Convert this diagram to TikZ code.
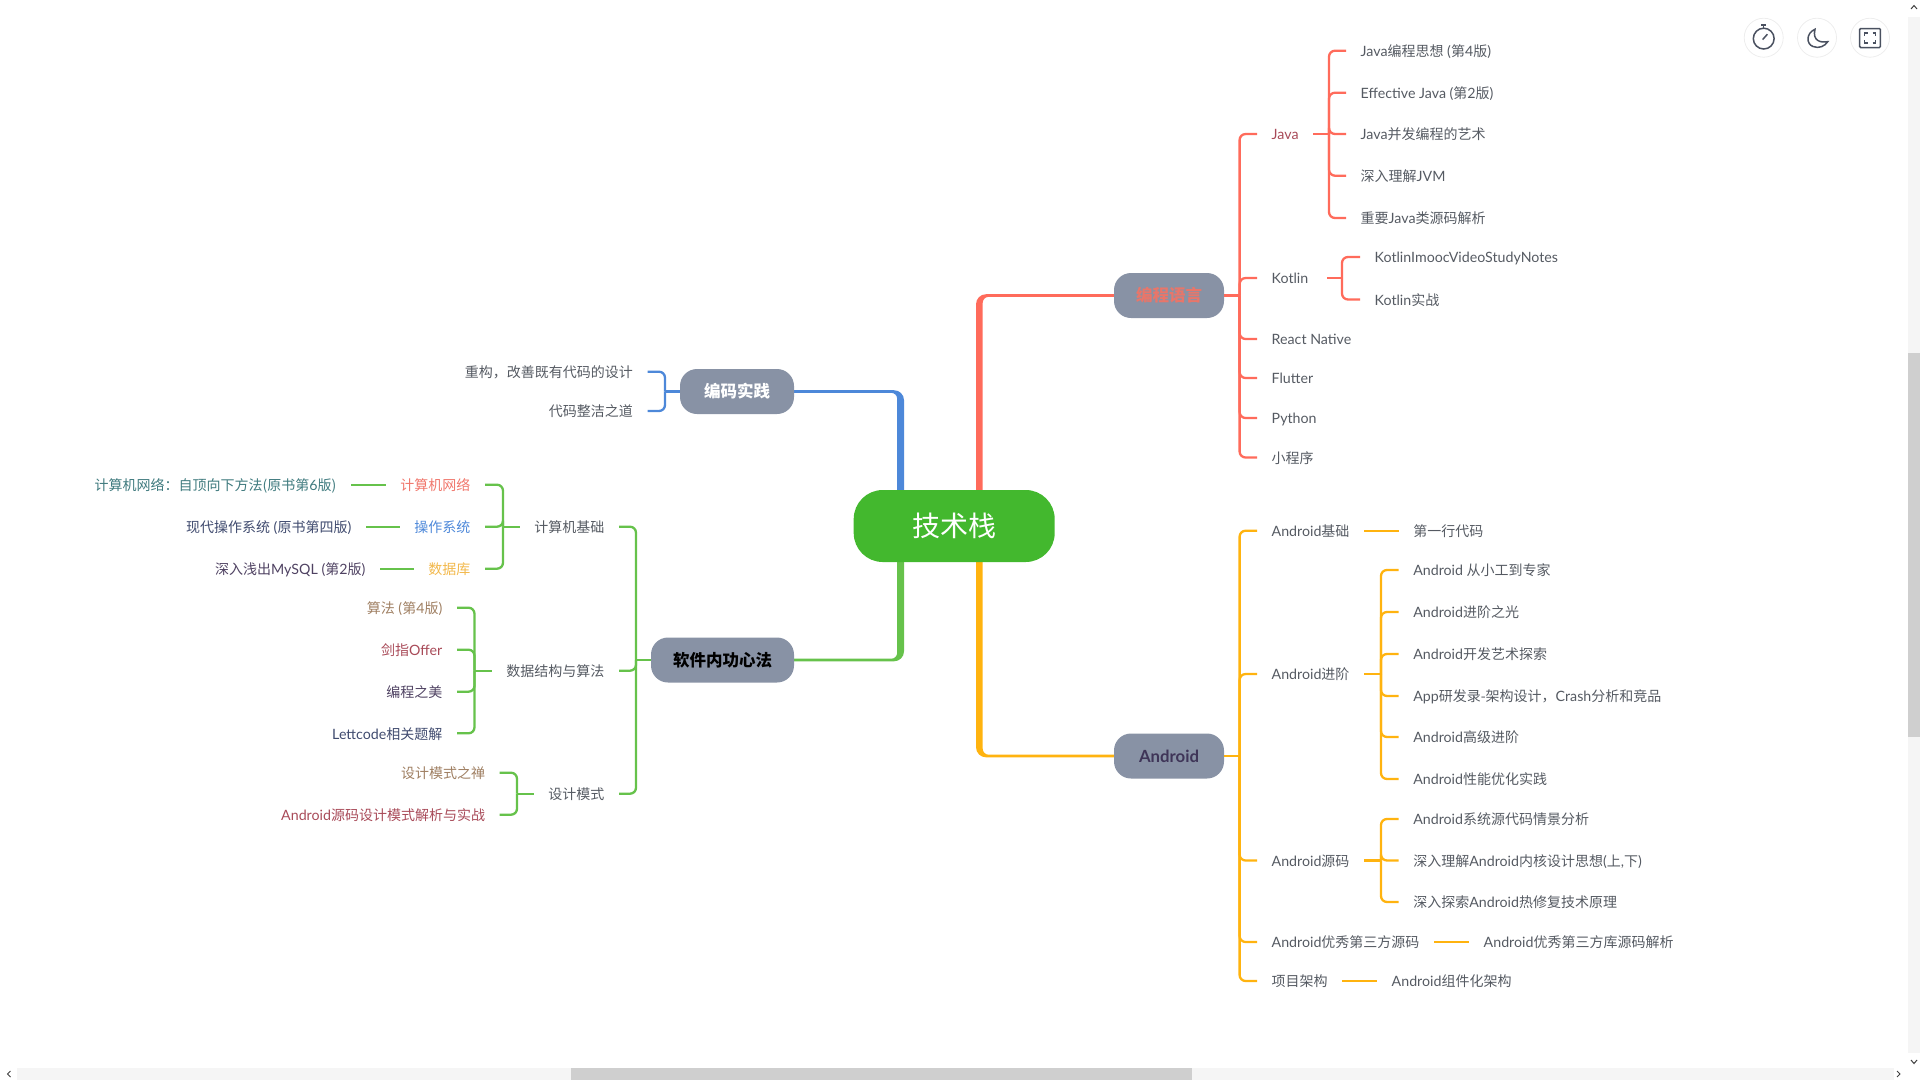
\documentclass[tikz,border=0pt]{standalone}
\usepackage{fontspec}
\setmainfont[Scale=1.015]{Lato}
\newfontfamily\cjkfont{Noto Sans CJK SC}
\newcommand{\zh}[1]{{\cjkfont #1}}
\usetikzlibrary{positioning}
\pgfdeclarelayer{under}
\pgfsetlayers{under,main}

\definecolor{rootgreen}{HTML}{43B82E}
\definecolor{topicgrey}{HTML}{8892A5}
\definecolor{langred}{HTML}{FF6B5B}
\definecolor{andyellow}{HTML}{FFB30F}
\definecolor{codeblue}{HTML}{4D88D9}
\definecolor{softgreen}{HTML}{66C24B}
\definecolor{leaftxt}{HTML}{555A62}
\definecolor{icongrey}{HTML}{4A5160}
\definecolor{rosetxt}{HTML}{A84A58}
\definecolor{browntxt}{HTML}{9F7F62}
\definecolor{plumtxt}{HTML}{4F4262}
\definecolor{navytxt}{HTML}{3F4A6E}
\definecolor{tealtxt}{HTML}{3F7A7E}
\definecolor{salmontxt}{HTML}{F0776C}
\definecolor{goldtxt}{HTML}{F2B84B}
\definecolor{langtxt}{HTML}{E8766A}
\definecolor{androidtxt}{HTML}{3F3558}

\tikzset{
	topic/.style={fill=topicgrey, rounded corners=17pt, minimum width=#1, minimum height=45pt, inner sep=0pt, font=\fontsize{16.5}{18}\selectfont\bfseries},
	rleaf/.style={anchor=west, inner xsep=14.5pt, inner ysep=0pt, text height=12.4pt, text depth=0.5pt, text=leaftxt, font=\fontsize{14}{16}\selectfont},
	lleaf/.style={rleaf, anchor=east},
	wire/.style={line width=2.3pt, rounded corners=6pt},
	iconbtn/.style={circle, draw=black!7, line width=0.8pt, minimum size=39pt, inner sep=0pt},
	iconline/.style={draw=icongrey, line width=1.5pt}
}

\begin{document}
\begin{tikzpicture}[x=1pt, y=-1pt]
	\useasboundingbox (0,0) rectangle (1920,1080);

	% Centre and main topics
	\node[fill=rootgreen, rounded corners=29pt, minimum width=201pt, minimum height=72pt, inner sep=0pt, text=white, font=\fontsize{28}{30}\selectfont] (root) at (954.2,526) {\zh{技术栈}};
	\node[topic=110pt, text=langtxt] (lang) at (1169,295.5) {\zh{编程语言}};
	\node[topic=110pt, text=androidtxt] (android) at (1169,756) {Android};
	\node[topic=114pt, text=white] (coding) at (737,391.5) {\zh{编码实践}};
	\node[topic=143pt, text=black] (soft) at (722.5,660) {\zh{软件内功心法}};

	% Main branches
	\begin{pgfonlayer}{under}
	\fill[langred] ([yshift=1.3pt]lang.center) [rounded corners=10pt] -| ([xshift=21.8pt]root.center) [sharp corners] -- ([xshift=28.5pt]root.center) [rounded corners=6pt] |- ([yshift=-1.3pt]lang.center) -- cycle;
	\fill[andyellow] ([yshift=-1.3pt]android.center) [rounded corners=10pt] -| ([xshift=21.8pt]root.center) [sharp corners] -- ([xshift=28.5pt]root.center) [rounded corners=6pt] |- ([yshift=1.3pt]android.center) -- cycle;
	\fill[codeblue] ([yshift=1.3pt]coding.center) [rounded corners=10pt] -| ([xshift=-50.2pt]root.center) [sharp corners] -- ([xshift=-57pt]root.center) [rounded corners=6pt] |- ([yshift=-1.3pt]coding.center) -- cycle;
	\fill[softgreen] ([yshift=-1.3pt]soft.center) [rounded corners=10pt] -| ([xshift=-50.2pt]root.center) [sharp corners] -- ([xshift=-57pt]root.center) [rounded corners=6pt] |- ([yshift=1.3pt]soft.center) -- cycle;
	\end{pgfonlayer}

	% Languages
	\node[rleaf, text=rosetxt] (java) at (1257,134) {Java};
	\node[rleaf] (kotlin) at (1257,278) {Kotlin};
	\node[rleaf] (rn) at (1257,339) {React Native};
	\node[rleaf] (flutter) at (1257,378) {Flutter};
	\node[rleaf] (python) at (1257,418) {Python};
	\node[rleaf] (mini) at (1257,457.5) {\zh{小程序}};
	\node[rleaf] (jthink) at (1346,50.7) {Java\zh{编程思想} (\zh{第}4\zh{版})};
	\node[rleaf] (jeffect) at (1346,92.7) {Effective Java (\zh{第}2\zh{版})};
	\node[rleaf] (jconc) at (1346,134) {Java\zh{并发编程的艺术}};
	\node[rleaf] (jvm) at (1346,175.7) {\zh{深入理解}JVM};
	\node[rleaf] (jsrc) at (1346,218) {\zh{重要}Java\zh{类源码解析}};
	\node[rleaf] (knotes) at (1360,257) {KotlinImoocVideoStudyNotes};
	\node[rleaf] (kwar) at (1360,299.5) {Kotlin\zh{实战}};
	\coordinate (langbus) at (1239.6,295.5);
	\coordinate (javabus) at (1329,134);
	\coordinate (kotlinbus) at (1342,278);

	\draw[wire, langred] (lang.east) -- (langbus);
	\foreach \kid in {java,kotlin,rn,flutter,python,mini}
		\draw[wire, langred] (langbus) |- (\kid.west);
	\draw[wire, langred] (java.east) -- (javabus);
	\foreach \kid in {jthink,jeffect,jconc,jvm,jsrc}
		\draw[wire, langred] (javabus) |- (\kid.west);
	\draw[wire, langred] ([xshift=4pt]kotlin.east) -- (kotlinbus);
	\foreach \kid in {knotes,kwar}
		\draw[wire, langred] (kotlinbus) |- (\kid.west);

	% Android
	\node[rleaf] (abase) at (1257,530.7) {Android\zh{基础}};
	\node[rleaf] (aadv) at (1257,674) {Android\zh{进阶}};
	\node[rleaf] (asrc) at (1257,860.5) {Android\zh{源码}};
	\node[rleaf] (athird) at (1257,942) {Android\zh{优秀第三方源码}};
	\node[rleaf] (aarch) at (1257,981) {\zh{项目架构}};
	\node[rleaf] (afirst) at (1398.6,530.7) {\zh{第一行代码}};
	\node[rleaf] (apro) at (1398.6,570) {Android \zh{从小工到专家}};
	\node[rleaf] (alight) at (1398.6,612) {Android\zh{进阶之光}};
	\node[rleaf] (aart) at (1398.6,654) {Android\zh{开发艺术探索}};
	\node[rleaf] (aapp) at (1398.6,696) {App\zh{研发录-架构设计，}Crash\zh{分析和竞品}};
	\node[rleaf] (ahigh) at (1398.6,737) {Android\zh{高级进阶}};
	\node[rleaf] (aperf) at (1398.6,779) {Android\zh{性能优化实践}};
	\node[rleaf] (ascene) at (1398.6,819) {Android\zh{系统源代码情景分析}};
	\node[rleaf] (akern) at (1398.6,860.5) {\zh{深入理解}Android\zh{内核设计思想}(\zh{上},\zh{下})};
	\node[rleaf] (ahot) at (1398.6,902) {\zh{深入探索}Android\zh{热修复技术原理}};
	\node[rleaf] (alib) at (1469,942) {Android\zh{优秀第三方库源码解析}};
	\node[rleaf] (acomp) at (1377,981) {Android\zh{组件化架构}};
	\coordinate (andbus) at (1239.6,756);
	\coordinate (advbus) at (1381,674);
	\coordinate (srcbus) at (1381,860.5);

	\draw[wire, andyellow] (android.east) -- (andbus);
	\foreach \kid in {abase,aadv,asrc,athird,aarch}
		\draw[wire, andyellow] (andbus) |- (\kid.west);
	\draw[wire, andyellow] (abase.east) -- (afirst.west);
	\draw[wire, andyellow] (athird.east) -- (alib.west);
	\draw[wire, andyellow] (aarch.east) -- (acomp.west);
	\draw[wire, andyellow] (aadv.east) -- (advbus);
	\foreach \kid in {apro,alight,aart,aapp,ahigh,aperf}
		\draw[wire, andyellow] (advbus) |- (\kid.west);
	\draw[wire, andyellow] (asrc.east) -- (srcbus);
	\foreach \kid in {ascene,akern,ahot}
		\draw[wire, andyellow] (srcbus) |- (\kid.west);

	% Coding practice
	\node[lleaf] (refactor) at (647.5,371.7) {\zh{重构，改善既有代码的设计}};
	\node[lleaf] (clean) at (647.5,411) {\zh{代码整洁之道}};
	\coordinate (codebus) at (665,391.5);

	\draw[wire, codeblue] (coding.west) -- (codebus);
	\foreach \kid in {refactor,clean}
		\draw[wire, codeblue] (codebus) |- (\kid.east);

	% Inner skills
	\node[lleaf] (basics) at (619,526.7) {\zh{计算机基础}};
	\node[lleaf] (algo) at (619,670.7) {\zh{数据结构与算法}};
	\node[lleaf] (design) at (619,793.7) {\zh{设计模式}};
	\node[lleaf, text=salmontxt] (net) at (485,484.7) {\zh{计算机网络}};
	\node[lleaf, text=codeblue] (os) at (485,526.7) {\zh{操作系统}};
	\node[lleaf, text=goldtxt] (db) at (485,568.7) {\zh{数据库}};
	\node[lleaf, text=tealtxt] (netbook) at (351,484.7) {\zh{计算机网络：自顶向下方法(原书第}6\zh{版)}};
	\node[lleaf, text=navytxt] (osbook) at (366,526.7) {\zh{现代操作系统} (\zh{原书第四版})};
	\node[lleaf, text=plumtxt] (dbbook) at (380,568.7) {\zh{深入浅出}MySQL (\zh{第}2\zh{版})};
	\node[lleaf, text=browntxt] (algobook) at (457,607.7) {\zh{算法} (\zh{第}4\zh{版})};
	\node[lleaf, text=rosetxt] (offer) at (457,649.7) {\zh{剑指}Offer};
	\node[lleaf, text=plumtxt] (beauty) at (457,691.7) {\zh{编程之美}};
	\node[lleaf, text=navytxt] (leet) at (457,733.3) {Lettcode\zh{相关题解}};
	\node[lleaf, text=browntxt] (zen) at (499.7,772.7) {\zh{设计模式之禅}};
	\node[lleaf, text=rosetxt] (apat) at (499.7,814.7) {Android\zh{源码设计模式解析与实战}};
	\coordinate (softbus) at (636,660);
	\coordinate (basicsbus) at (503,526.7);
	\coordinate (algobus) at (474.5,670.7);
	\coordinate (designbus) at (517,793.7);

	\draw[wire, softgreen] (soft.west) -- (softbus);
	\foreach \kid in {basics,algo,design}
		\draw[wire, softgreen] (softbus) |- (\kid.east);
	\draw[wire, softgreen] (basics.west) -- (basicsbus);
	\foreach \kid in {net,os,db}
		\draw[wire, softgreen] (basicsbus) |- (\kid.east);
	\draw[wire, softgreen] (net.west) -- (netbook.east);
	\draw[wire, softgreen] (os.west) -- (osbook.east);
	\draw[wire, softgreen] (db.west) -- (dbbook.east);
	\draw[wire, softgreen] (algo.west) -- (algobus);
	\foreach \kid in {algobook,offer,beauty,leet}
		\draw[wire, softgreen] (algobus) |- (\kid.east);
	\draw[wire, softgreen] (design.west) -- (designbus);
	\foreach \kid in {zen,apat}
		\draw[wire, softgreen] (designbus) |- (\kid.east);

	% Toolbar
	\node[iconbtn] (timer) at (1763.7,37.7) {};
	\node[iconbtn] (moon) at (1817,37.7) {};
	\node[iconbtn] (full) at (1870,37.7) {};
	\draw[iconline] (1763.7,38.6) circle (10.4pt);
	\draw[iconline] (1761,25.2) -- (1766.4,25.2);
	\draw[iconline] (1763.7,25.2) -- (1763.7,28);
	\draw[iconline] (1762.6,39.6) -- (1767.4,34.2);
	\draw[iconline] (1815,29.3) .. controls (1806,33) and (1806,44) .. (1813,46.5) .. controls (1819,49) and (1825,46) .. (1827.7,41.7) .. controls (1821,43) and (1812,41) .. (1815,29.3) -- cycle;
	\draw[iconline, rounded corners=1pt] (1859.7,28.5) rectangle (1880.3,47.5);
	\draw[iconline, line width=1.2pt] (1864.5,36) -- (1864.5,33) -- (1867.5,33);
	\draw[iconline, line width=1.2pt] (1872.5,33) -- (1875.5,33) -- (1875.5,36);
	\draw[iconline, line width=1.2pt] (1864.5,40) -- (1864.5,43) -- (1867.5,43);
	\draw[iconline, line width=1.2pt] (1872.5,43) -- (1875.5,43) -- (1875.5,40);

	% Scrollbars
	\fill[black!4] (1908,17) rectangle (1920,1053);
	\fill[black!19] (1908,353) rectangle (1920,737);
	\fill[black!4] (17,1068) rectangle (1894,1080);
	\fill[black!19] (570.6,1068) rectangle (1191.5,1080);
	\draw[black!75, line width=1pt] (1911,9) -- (1914,5.5) -- (1917,9);
	\draw[black!75, line width=1pt] (1911,1060) -- (1914,1063.5) -- (1917,1060);
	\draw[black!75, line width=1pt] (10.5,1071) -- (7.5,1074) -- (10.5,1077);
	\draw[black!75, line width=1pt] (1897,1071) -- (1900,1074) -- (1897,1077);
\end{tikzpicture}
\end{document}
